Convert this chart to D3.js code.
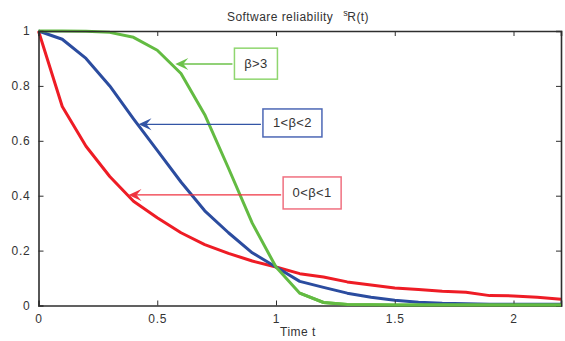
<!DOCTYPE html>
<html>
<head>
<meta charset="utf-8">
<script src="https://cdn.jsdelivr.net/npm/d3@7"></script>
<style>
  body { margin: 0; background: #fff; }
  text { font-family: "Liberation Sans", Arial, sans-serif; fill: #333; }
</style>
</head>
<body>
<div id="chart"></div>
<script>
// time points (0 .. 2.2 step 0.1)
const times = [0, 0.1, 0.2, 0.3, 0.4, 0.5, 0.6, 0.7, 0.8, 0.9, 1.0, 1.1,
  1.2, 1.3, 1.4, 1.5, 1.6, 1.7, 1.8, 1.9, 2.0, 2.1, 2.2];

// reliability for the three beta ranges
const redVals = [1, 0.725, 0.58, 0.47, 0.38, 0.32, 0.265, 0.222, 0.19, 0.162, 0.14, 0.116,
  0.104, 0.086, 0.075, 0.064, 0.058, 0.052, 0.048, 0.036, 0.035, 0.03, 0.023];
const blueVals = [1, 0.97, 0.9, 0.8, 0.68, 0.565, 0.45, 0.345, 0.265, 0.192, 0.14, 0.088,
  0.066, 0.045, 0.03, 0.019, 0.012, 0.008, 0.006, 0.005, 0.005, 0.005, 0.005];
const greenVals = [1, 1, 0.999, 0.995, 0.977, 0.93, 0.845, 0.695, 0.5, 0.3, 0.14, 0.045,
  0.011, 0.004, 0.003, 0.002, 0.002, 0.002, 0.002, 0.002, 0.002, 0.002, 0.002];

const xTicks = [0, 0.5, 1, 1.5, 2];
const yTicks = [0, 0.2, 0.4, 0.6, 0.8, 1];

// annotation labels: arrow head (t, R) and box left edge / centre (t, R)
const noteLabels = ["β>3", "1<β<2", "0<β<1"];
const noteHeads = [[0.576, 0.88], [0.421, 0.66], [0.379, 0.403]];
const noteBoxes = [[0.825, 0.881], [0.945, 0.665], [1.03, 0.41]];

const series = [
  {vals: redVals, color: "#ee1c25"},
  {vals: blueVals, color: "#2b4c9f"},
  {vals: greenVals, color: "#63bb42"}
];
const noteStyle = [
  {line: "#6cc24a", box: "#8fd66f", w: 43, h: 31},
  {line: "#3355a5", box: "#4c67b5", w: 59, h: 28},
  {line: "#ef3340", box: "#f07080", w: 58, h: 32}
];

const W = 565, H = 341;
const margin = {top: 31, right: 4, bottom: 35.5, left: 38.5};

const svg = d3.select("#chart").append("svg")
  .attr("width", W).attr("height", H);

const x = d3.scaleLinear().domain([0, 2.2]).range([margin.left, W - margin.right]);
const y = d3.scaleLinear().domain([0, 1]).range([H - margin.bottom, margin.top]);

// title
const title = svg.append("text")
  .attr("x", 298).attr("y", 21)
  .attr("text-anchor", "middle")
  .style("font-size", "12px").style("letter-spacing", "0.45px");
title.append("tspan").text("Software reliability");
title.append("tspan").attr("dx", 10).attr("dy", -5).style("font-size", "9px").text("s");
title.append("tspan").attr("dy", 5).attr("dx", -1).text("R(t)");

// x label
svg.append("text")
  .attr("x", 298).attr("y", 336)
  .attr("text-anchor", "middle")
  .style("font-size", "12px").style("letter-spacing", "0.5px")
  .text("Time t");

// lines
const line = d3.line()
  .x((d, i) => x(times[i]))
  .y(d => y(d));

series.forEach(s => {
  svg.append("path")
    .datum(s.vals)
    .attr("fill", "none")
    .attr("stroke", s.color)
    .attr("stroke-width", 3)
    .attr("stroke-linejoin", "round")
    .attr("d", line);
});

// axes (MATLAB style box, ticks inward)
const axCol = "#2e2e2e";
const gx = svg.append("g")
  .attr("transform", `translate(0,${y(0)})`)
  .call(d3.axisBottom(x).tickValues(xTicks).tickSize(-5).tickPadding(9)
    .tickFormat(d3.format("")));
const gxt = svg.append("g")
  .attr("transform", `translate(0,${y(1)})`)
  .call(d3.axisTop(x).tickValues(xTicks).tickSize(-5).tickFormat(""));
const gy = svg.append("g")
  .attr("transform", `translate(${x(0)},0)`)
  .call(d3.axisLeft(y).tickValues(yTicks).tickSize(-5).tickPadding(8)
    .tickFormat(d3.format("")));
const gyr = svg.append("g")
  .attr("transform", `translate(${x(2.2)},0)`)
  .call(d3.axisRight(y).tickValues(yTicks).tickSize(-5).tickFormat(""));

[gx, gxt, gy, gyr].forEach(g => {
  g.select(".domain").attr("stroke", axCol).attr("stroke-width", 1.6);
  g.selectAll(".tick line").attr("stroke", axCol).attr("stroke-width", 1);
  g.selectAll(".tick text")
    .style("font-size", "12px").style("letter-spacing", "0.8px")
    .attr("fill", "#333");
});
gx.select(".tick line").remove();
gy.select(".tick line").remove();

// redraw green on top of the bottom axis like the reference
svg.append("path")
  .datum(greenVals)
  .attr("fill", "none")
  .attr("stroke", "#63bb42")
  .attr("stroke-width", 3)
  .attr("d", d3.line().x((d, i) => x(times[i])).y(d => y(d))
    .defined((d, i) => times[i] >= 1.1));

// annotations
noteLabels.forEach((lab, i) => {
  const st = noteStyle[i];
  const hx = x(noteHeads[i][0]), hy = y(noteHeads[i][1]);
  const bx = x(noteBoxes[i][0]), by = y(noteBoxes[i][1]);
  const g = svg.append("g");
  // arrow shaft
  g.append("line")
    .attr("x1", bx - 2).attr("y1", hy)
    .attr("x2", hx + 6).attr("y2", hy)
    .attr("stroke", st.line).attr("stroke-width", 1.4);
  // arrow head (concave back)
  g.append("path")
    .attr("d", `M${hx},${hy} L${hx + 13},${hy - 6} L${hx + 8},${hy} L${hx + 13},${hy + 6} Z`)
    .attr("fill", st.line);
  g.append("rect")
    .attr("x", bx).attr("y", by - st.h / 2)
    .attr("width", st.w).attr("height", st.h)
    .attr("fill", "#fff")
    .attr("stroke", st.box).attr("stroke-width", 1.5);
  g.append("text")
    .attr("x", bx + st.w / 2).attr("y", by + 4.5)
    .attr("text-anchor", "middle")
    .style("font-size", "13px").style("letter-spacing", "0.4px")
    .text(lab);
});
</script>
</body>
</html>
